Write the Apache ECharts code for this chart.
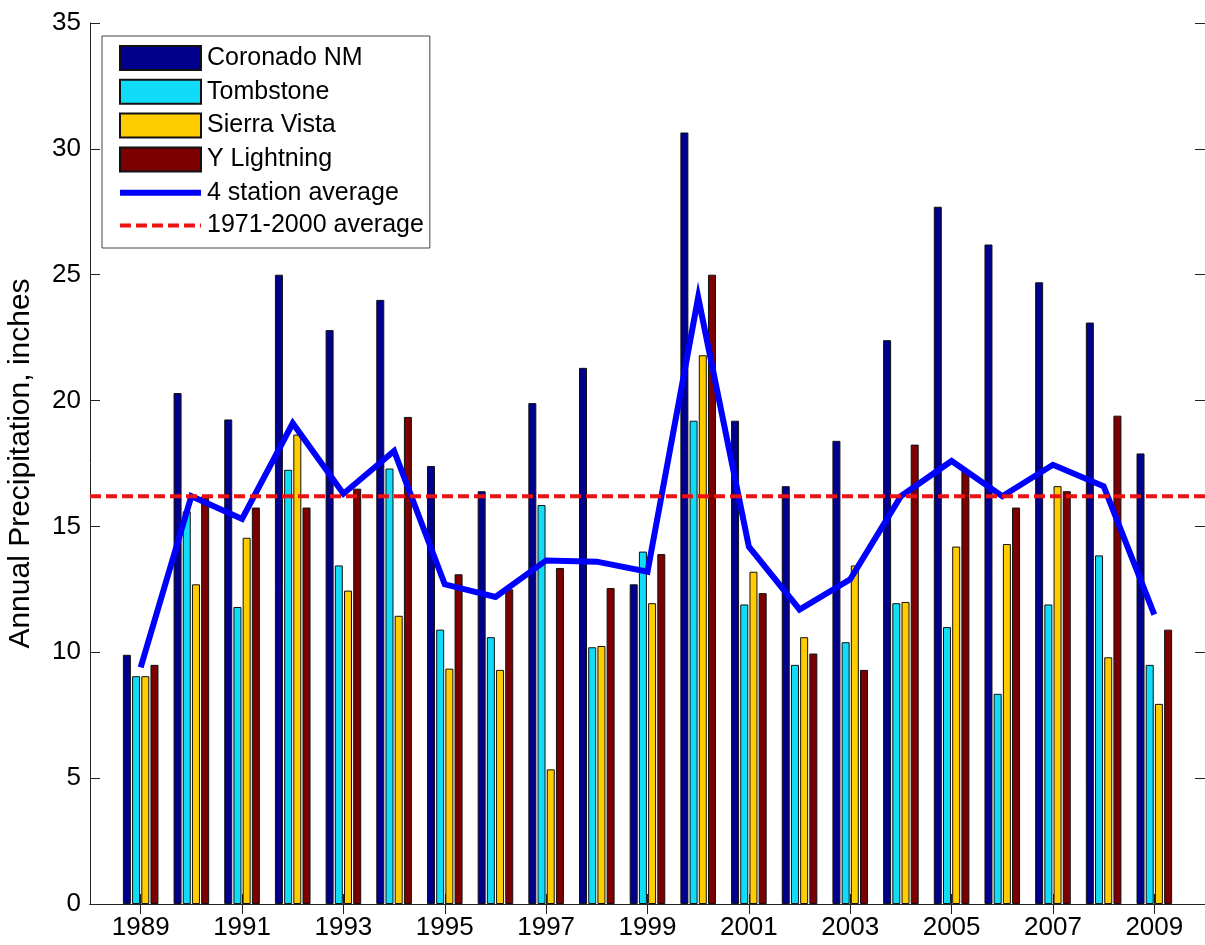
<!DOCTYPE html>
<html>
<head>
<meta charset="utf-8">
<script src="https://cdn.jsdelivr.net/npm/echarts@6/dist/echarts.min.js"></script>
<style>
  html, body { margin: 0; padding: 0; background: #fff; }
  #chart { width: 1205px; height: 945px; }
</style>
</head>
<body>
<div id="chart"></div>
<script>
// years 1989..2009
const years = [1989, 1990, 1991, 1992, 1993, 1994, 1995, 1996, 1997, 1998, 1999,
               2000, 2001, 2002, 2003, 2004, 2005, 2006, 2007, 2008, 2009]
const tickYears = [1989, 1991, 1993, 1995, 1997, 1999, 2001, 2003, 2005, 2007, 2009]

const coronado = [9.9, 20.3, 19.25, 25.0, 22.8, 24.0, 17.4, 16.4, 19.9, 21.3, 12.7,
                  30.65, 19.2, 16.6, 18.4, 22.4, 27.7, 26.2, 24.7, 23.1, 17.9]
const tombstone = [9.05, 15.6, 11.8, 17.25, 13.45, 17.3, 10.9, 10.6, 15.85, 10.2, 14.0,
                   19.2, 11.9, 9.5, 10.4, 11.95, 11.0, 8.35, 11.9, 13.85, 9.5]
const sierraVista = [9.05, 12.7, 14.55, 18.65, 12.45, 11.45, 9.35, 9.3, 5.35, 10.25, 11.95,
                     21.8, 13.2, 10.6, 13.45, 12.0, 14.2, 14.3, 16.6, 9.8, 7.95]
const yLightning = [9.5, 16.2, 15.75, 15.75, 16.5, 19.35, 13.1, 12.5, 13.35, 12.55, 13.9,
                    25.0, 12.35, 9.95, 9.3, 18.25, 17.2, 15.75, 16.4, 19.4, 10.9]
const stationAvg = [9.4, 16.2, 15.3, 19.1, 16.3, 18.0, 12.7, 12.2, 13.65, 13.6, 13.2,
                    24.1, 14.2, 11.7, 12.9, 16.2, 17.6, 16.2, 17.45, 16.6, 11.5]
const normal7100 = 16.2
const xRange = [1988, 2010]

const font = 'Liberation Sans, Arial, sans-serif'
const axisColor = '#222'

function pairs(vals) {
  return years.map((y, i) => [y, vals[i]])
}

function barSeries(name, vals, color) {
  return {
    type: 'bar',
    name: name,
    data: pairs(vals),
    barWidth: 8,
    barGap: '15%',
    itemStyle: { color: color, borderColor: '#111', borderWidth: 1 }
  }
}

const myChart = echarts.init(document.getElementById('chart'))
const option = {
  animation: false,
  backgroundColor: '#fff',
  textStyle: { fontFamily: font },
  grid: { left: 90, right: 0, top: 23, bottom: 41, outerBoundsMode: 'none' },
  legend: {
    orient: 'vertical',
    left: 102,
    top: 36,
    padding: [9, 6, 10, 15],
    itemWidth: 81,
    itemHeight: 24,
    itemGap: 7.8,
    backgroundColor: '#fff',
    borderColor: '#444',
    borderWidth: 1,
    textStyle: { fontSize: 25, color: '#000', fontFamily: font, lineHeight: 24, padding: [0, 0, 0, 1] },
    data: [
      { name: 'Coronado NM', icon: 'rect' },
      { name: 'Tombstone', icon: 'rect' },
      { name: 'Sierra Vista', icon: 'rect' },
      { name: 'Y Lightning', icon: 'rect' },
      { name: '4 station average', itemStyle: { opacity: 0 }, lineStyle: { width: 6, color: '#0000ff' } },
      { name: '1971-2000 average', itemStyle: { opacity: 0 }, lineStyle: { width: 4, color: '#ee1111', type: [11, 5] } }
    ]
  },
  xAxis: [
    {
      type: 'value',
      min: xRange[0],
      max: xRange[1],
      axisLine: { show: true, lineStyle: { color: axisColor, width: 1 } },
      axisTick: { show: true, inside: true, length: 10, customValues: tickYears, lineStyle: { color: axisColor } },
      axisLabel: {
        show: true, customValues: tickYears, fontSize: 26, color: '#000', margin: 11, fontFamily: font,
        formatter: function(v) { return String(v) }
      },
      splitLine: { show: false }
    },
    {
      type: 'value',
      position: 'top',
      min: xRange[0],
      max: xRange[1],
      axisLine: { show: true, lineStyle: { color: axisColor, width: 1 } },
      axisTick: { show: true, inside: true, length: 10, customValues: tickYears, lineStyle: { color: axisColor } },
      axisLabel: { show: false },
      splitLine: { show: false }
    }
  ],
  yAxis: [
    {
      type: 'value',
      min: 0,
      max: 35,
      interval: 5,
      name: 'Annual Precipitation, inches',
      nameLocation: 'middle',
      nameGap: 54,
      nameTextStyle: { fontSize: 30, color: '#000', fontFamily: font },
      axisLine: { show: true, lineStyle: { color: axisColor, width: 1 } },
      axisTick: { show: true, inside: true, length: 10, lineStyle: { color: axisColor } },
      axisLabel: { fontSize: 26, color: '#000', margin: 9, fontFamily: font },
      splitLine: { show: false }
    },
    {
      type: 'value',
      position: 'right',
      min: 0,
      max: 35,
      interval: 5,
      axisLine: { show: true, lineStyle: { color: axisColor, width: 1 } },
      axisTick: { show: true, inside: true, length: 10, lineStyle: { color: axisColor } },
      axisLabel: { show: false },
      splitLine: { show: false }
    }
  ],
  series: [
    barSeries('Coronado NM', coronado, '#00008c'),
    barSeries('Tombstone', tombstone, '#10dcf8'),
    barSeries('Sierra Vista', sierraVista, '#ffcc00'),
    barSeries('Y Lightning', yLightning, '#7c0000'),
    {
      type: 'line',
      name: '4 station average',
      data: pairs(stationAvg),
      symbol: 'none',
      z: 5,
      lineStyle: { color: '#0000ff', width: 6, join: 'miter' },
      itemStyle: { color: '#0000ff' }
    },
    {
      type: 'line',
      name: '1971-2000 average',
      data: xRange.map(x => [x, normal7100]),
      symbol: 'none',
      z: 6,
      lineStyle: { color: '#ee1111', width: 4, type: [11, 5] },
      itemStyle: { color: '#ee1111' }
    }
  ]
}
myChart.setOption(option)
window.addEventListener('resize', function() {
  myChart.resize()
})
</script>
</body>
</html>
